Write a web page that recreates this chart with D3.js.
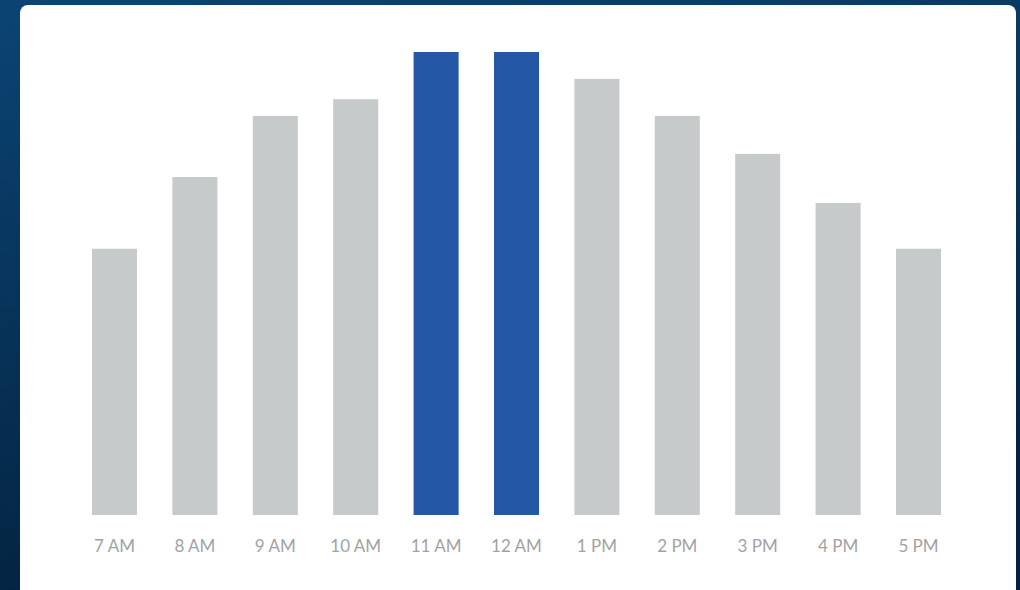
<!DOCTYPE html>
<html>
<head>
<meta charset="utf-8">
<script src="https://cdn.jsdelivr.net/npm/d3@7"></script>
<style>
  html, body { margin: 0; padding: 0; }
  body { width: 1020px; height: 590px; overflow: hidden; }
</style>
</head>
<body>
<div id="chart"></div>
<script>
// hours of the day and relative values
const hours = ["7 AM", "8 AM", "9 AM", "10 AM", "11 AM", "12 AM", "1 PM", "2 PM", "3 PM", "4 PM", "5 PM"];
const values = [57.5, 73, 86.2, 89.8, 100, 100, 94.2, 86.2, 78, 67.4, 57.5];
const highlighted = ["11 AM", "12 AM"];

const width = 1020;
const height = 590;

const svg = d3.select("#chart")
  .append("svg")
  .attr("width", width)
  .attr("height", height);

// dark blue page background
const defs = svg.append("defs");
const grad = defs.append("linearGradient")
  .attr("id", "bg")
  .attr("x1", 0).attr("y1", 0)
  .attr("x2", 0.3).attr("y2", 1);
grad.append("stop").attr("offset", "0%").attr("stop-color", "#0b4474");
grad.append("stop").attr("offset", "100%").attr("stop-color", "#03223e");

svg.append("rect")
  .attr("width", width)
  .attr("height", height)
  .attr("fill", "url(#bg)");

// white card
svg.append("rect")
  .attr("x", 20)
  .attr("y", 5)
  .attr("width", 996)
  .attr("height", 620)
  .attr("rx", 8)
  .attr("fill", "#ffffff");

const x = d3.scaleBand()
  .domain(hours)
  .range([92, 941])
  .paddingInner(0.44)
  .paddingOuter(0);

const y = d3.scaleLinear()
  .domain([0, 100])
  .range([515, 52]);

svg.append("g")
  .selectAll("rect")
  .data(hours)
  .join("rect")
  .attr("x", d => x(d))
  .attr("y", (d, i) => y(values[i]))
  .attr("width", x.bandwidth())
  .attr("height", (d, i) => y(0) - y(values[i]))
  .attr("fill", d => highlighted.includes(d) ? "#2557a7" : "#c7cacb");

const axis = svg.append("g")
  .attr("transform", "translate(0,515)")
  .call(d3.axisBottom(x).tickSize(0).tickPadding(25));

axis.select(".domain").remove();
axis.selectAll("text")
  .attr("dy", "0.71em")
  .style("font-family", "Lato, 'Open Sans', sans-serif")
  .style("font-size", "17px")
  .style("fill", "#a2a2a2");
</script>
</body>
</html>
